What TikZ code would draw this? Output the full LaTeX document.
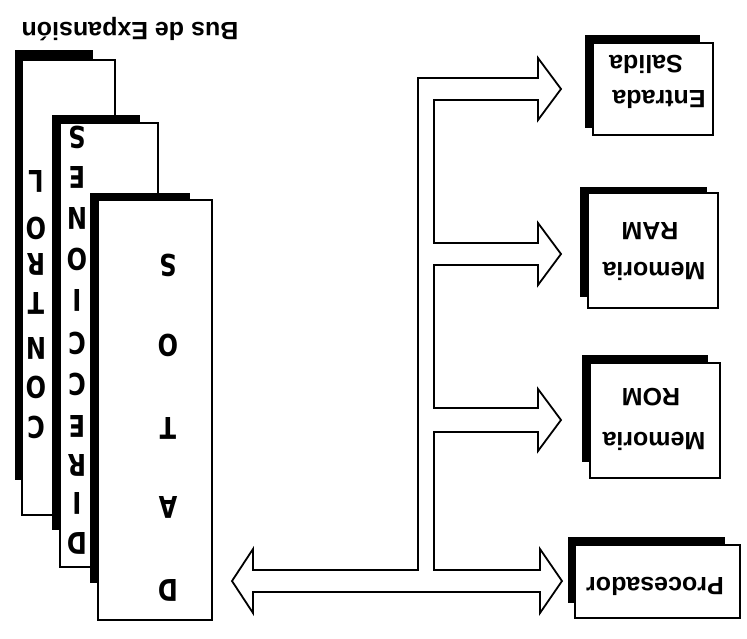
\documentclass[tikz,border=0pt]{standalone}
\usepackage{fontspec}
\setmainfont{Liberation Sans}
\newfontfamily\letfnt[FakeStretch=0.8]{DejaVu Sans}
\begin{document}
\begin{tikzpicture}[x=1pt,y=-1pt,
  shadowfill/.style={fill=black,draw=none},
  pagebox/.style={fill=white,draw=black,line width=1.6pt},
  letter/.style={font=\letfnt\bfseries\fontsize{30}{30}\selectfont,rotate=180,inner sep=0pt},
  lbl/.style={font=\bfseries\fontsize{25}{30}\selectfont,rotate=180,anchor=base,inner sep=0pt},
  busline/.style={draw=black,line width=1.8pt,fill=white,line join=miter}]
\useasboundingbox (0,0) rectangle (747,638);

% title
\node[lbl] (title) at (130,22) {Bus de Expansión};

% stacked pages
\fill[shadowfill] (15,50) rectangle (93,480);
\draw[pagebox] (22,60) rectangle (115,515);
\fill[shadowfill] (52,115) rectangle (140,530);
\draw[pagebox] (60,123) rectangle (158,567);
\fill[shadowfill] (90,193) rectangle (190,583);
\draw[pagebox] (98,200) rectangle (212,620);

% CONTROL
\node[letter] (c1) at (36,427) {C};
\node[letter] (c2) at (36,387) {O};
\node[letter] (c3) at (36,348) {N};
\node[letter] (c4) at (36,303) {T};
\node[letter] (c5) at (36,264) {R};
\node[letter] (c6) at (36,228) {O};
\node[letter] (c7) at (36,181) {L};
% DIRECCIONES
\node[letter] (d1) at (77,543) {D};
\node[letter] (d2) at (77,503) {I};
\node[letter] (d3) at (77,465) {R};
\node[letter] (d4) at (77,426) {E};
\node[letter] (d5) at (77,384) {C};
\node[letter] (d6) at (77,343) {C};
\node[letter] (d7) at (77,300) {I};
\node[letter] (d8) at (77,259) {O};
\node[letter] (d9) at (77,218) {N};
\node[letter] (d10) at (77,177) {E};
\node[letter] (d11) at (77,137) {S};
% DATOS
\node[letter] (t1) at (168,590) {D};
\node[letter] (t2) at (168,507) {A};
\node[letter] (t3) at (168,428) {T};
\node[letter] (t4) at (168,345) {O};
\node[letter] (t5) at (168,265) {S};

% right boxes
\fill[shadowfill] (585,35) rectangle (700,128);
\draw[pagebox] (593,43) rectangle (713,135);
\fill[shadowfill] (580,187) rectangle (707,297);
\draw[pagebox] (588,193) rectangle (718,308);
\fill[shadowfill] (582,355) rectangle (708,462);
\draw[pagebox] (590,363) rectangle (720,478);
\fill[shadowfill] (568,537) rectangle (725,603);
\draw[pagebox] (575,545) rectangle (740,618);

\node[lbl] (es1) at (659,90) {Entrada};
\node[lbl] (es2) at (646,55) {Salida};
\node[lbl] (ram1) at (654,262) {Memoria};
\node[lbl] (ram2) at (650,222) {RAM};
\node[lbl] (rom1) at (654,432) {Memoria};
\node[lbl] (rom2) at (651,388) {ROM};
\node[lbl] (proc) at (655,577) {Procesador};

% bus outline
\draw[busline] (232,581) -- (253,549) -- (253,570) -- (418,570) -- (418,78)
  -- (538,78) -- (538,58) -- (561,89) -- (538,120) -- (538,100) -- (434,100)
  -- (434,243) -- (538,243) -- (538,223) -- (561,254) -- (538,285) -- (538,265) -- (434,265)
  -- (434,408) -- (538,408) -- (538,389) -- (561,420) -- (538,451) -- (538,432) -- (434,432)
  -- (434,570) -- (540,570) -- (540,549) -- (562,581) -- (540,613) -- (540,592)
  -- (253,592) -- (253,613) -- cycle;
\end{tikzpicture}
\end{document}
